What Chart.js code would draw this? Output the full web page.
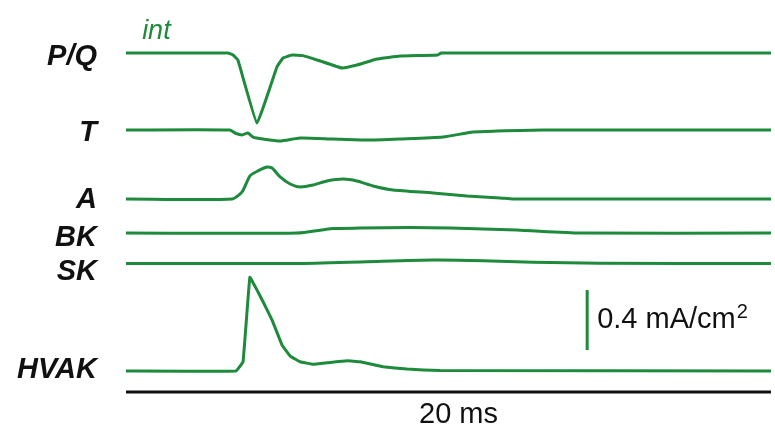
<!DOCTYPE html>
<html>
<head>
<meta charset="utf-8">
<script src="https://cdn.jsdelivr.net/npm/chart.js@4"></script>
<style>
  html, body { margin: 0; padding: 0; background: #fff; }
  canvas { display: block; }
</style>
</head>
<body>
<canvas id="traces" width="775" height="444"></canvas>
<script>
// time in ms, current in mA/cm2 relative to each trace's resting level
const pqTime = [0, 3.16, 3.32, 3.47, 4.06, 4.68, 4.87, 5.15, 5.49, 6.02, 6.70, 7.16, 7.78, 8.50, 9.67, 9.77, 20];
const pqCurrent = [0, 0, -0.013, -0.047, -0.467, -0.093, -0.033, -0.013, -0.017, -0.053, -0.1, -0.08, -0.04, -0.02, -0.013, 0, 0];

const tTime = [0, 3.22, 3.38, 3.60, 3.78, 3.94, 4.25, 4.78, 5.40, 6.42, 7.47, 8.50, 9.83, 10.76, 11.5, 12.93, 20];
const tCurrent = [0, 0, -0.02, -0.033, -0.02, -0.047, -0.06, -0.073, -0.053, -0.06, -0.067, -0.06, -0.047, -0.013, -0.007, 0, 0];

const aTime = [0, 3.29, 3.60, 3.84, 4.09, 4.37, 4.53, 4.78, 5.09, 5.40, 5.80, 6.23, 6.73, 7.16, 7.66, 8.28, 9.52, 10.57, 11.6, 12.0, 20];
const aCurrent = [0, 0, 0.047, 0.153, 0.187, 0.213, 0.207, 0.147, 0.1, 0.08, 0.093, 0.12, 0.133, 0.12, 0.087, 0.06, 0.04, 0.02, 0.007, 0, 0];

const bkTime = [0, 5.30, 6.42, 7.26, 8.81, 10.05, 12.12, 14.08, 20];
const bkCurrent = [0, 0, 0.03, 0.033, 0.037, 0.033, 0.02, 0, 0];

const skTime = [0, 5.30, 7.47, 9.52, 11.07, 12.62, 14.7, 20];
const skCurrent = [0, 0, 0.012, 0.023, 0.019, 0.008, 0.002, 0];

const hvakTime = [0, 3.41, 3.63, 3.84, 4.09, 4.25, 4.53, 4.84, 5.09, 5.40, 5.80, 6.23, 6.85, 7.26, 7.97, 8.71, 9.74, 20];
const hvakCurrent = [0, 0, 0.062, 0.625, 0.529, 0.462, 0.34, 0.173, 0.1, 0.062, 0.045, 0.055, 0.069, 0.062, 0.029, 0.013, 0.003, 0];

const traceNames = ["P/Q", "T", "A", "BK", "SK", "HVAK"];
const traceOffsets = [2.313, 1.8, 1.34, 1.113, 0.91, 0.193];

// scale bars
const timeBarMs = 20;
const timeBarLevel = 0.053;
const currentBarMs = 14.3;
const currentBarBase = 0.333;
const currentBarSize = 0.4;

const GREEN = "#1e8a3c";
const traceTimes = [pqTime, tTime, aTime, bkTime, skTime, hvakTime];
const traceCurrents = [pqCurrent, tCurrent, aCurrent, bkCurrent, skCurrent, hvakCurrent];
// sharp spikes on P/Q and HVAK, smoother for the rest
const TENSION = [0.08, 0.2, 0.2, 0.2, 0.2, 0.05];

const datasets = traceNames.map((name, i) => ({
  label: name,
  data: traceTimes[i].map((t, j) => ({ x: t, y: traceCurrents[i][j] + traceOffsets[i] })),
  borderColor: GREEN,
  borderWidth: 3,
  pointRadius: 0,
  tension: TENSION[i],
  borderJoinStyle: "round",
  clip: false,
}));

datasets.push({
  label: "time bar",
  data: [{ x: 0, y: timeBarLevel }, { x: timeBarMs, y: timeBarLevel }],
  borderColor: "#111",
  borderWidth: 3,
  pointRadius: 0,
  clip: false,
});

datasets.push({
  label: "current bar",
  data: [{ x: currentBarMs, y: currentBarBase }, { x: currentBarMs, y: currentBarBase + currentBarSize }],
  borderColor: GREEN,
  borderWidth: 3,
  pointRadius: 0,
  clip: false,
});

// label nudges in px so names sit like the figure
const LABEL_NUDGE = [4, 3, 1, 5, 8, -1];

const textPlugin = {
  id: "traceText",
  afterDraw(chart) {
    const { ctx, scales: { x, y } } = chart;
    ctx.save();
    ctx.textBaseline = "middle";

    ctx.fillStyle = "#111";
    ctx.textAlign = "right";
    ctx.font = "italic bold 29px 'Liberation Sans', Arial, sans-serif";
    traceNames.forEach((name, i) => {
      ctx.fillText(name, 97, y.getPixelForValue(traceOffsets[i]) + LABEL_NUDGE[i]);
    });

    ctx.textAlign = "left";
    ctx.fillStyle = GREEN;
    ctx.font = "italic 27px 'Liberation Sans', Arial, sans-serif";
    ctx.fillText("int", x.getPixelForValue(0.5), y.getPixelForValue(traceOffsets[0]) - 22);

    // scale bar label with a raised 2
    ctx.fillStyle = "#111";
    ctx.font = "29px 'Liberation Sans', Arial, sans-serif";
    const lx = x.getPixelForValue(currentBarMs) + 10;
    const ly = y.getPixelForValue(currentBarBase + currentBarSize / 2);
    const main = "0.4 mA/cm";
    ctx.fillText(main, lx, ly);
    const w = ctx.measureText(main).width;
    ctx.font = "20px 'Liberation Sans', Arial, sans-serif";
    ctx.fillText("2", lx + w + 1, ly - 8);

    ctx.font = "29px 'Liberation Sans', Arial, sans-serif";
    ctx.textAlign = "center";
    ctx.fillText("20 ms", x.getPixelForValue(timeBarMs / 2) + 10, y.getPixelForValue(timeBarLevel) + 23);
    ctx.restore();
  },
};

new Chart(document.getElementById("traces"), {
  type: "line",
  data: { datasets },
  options: {
    responsive: false,
    animation: false,
    devicePixelRatio: 1,
    layout: { padding: { left: 126, right: 4, top: 10, bottom: 44 } },
    plugins: { legend: { display: false }, tooltip: { enabled: false } },
    scales: {
      x: { type: "linear", min: 0, max: 20, display: false },
      y: { min: 0, max: 2.6, display: false },
    },
  },
  plugins: [textPlugin],
});
</script>
</body>
</html>
